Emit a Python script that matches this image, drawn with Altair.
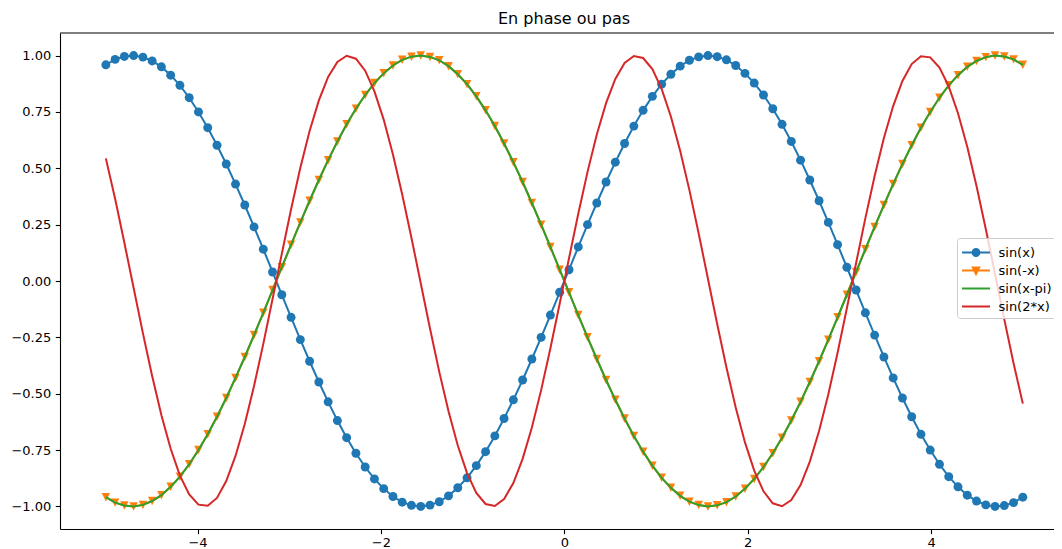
import altair as alt
import pandas as pd

# ---- data (100 samples between -5 and 5) ----
x_vals = [
    -5.000, -4.899, -4.798, -4.697, -4.596, -4.495, -4.394, -4.293, -4.192, -4.091,
    -3.990, -3.889, -3.788, -3.687, -3.586, -3.485, -3.384, -3.283, -3.182, -3.081,
    -2.980, -2.879, -2.778, -2.677, -2.576, -2.475, -2.374, -2.273, -2.172, -2.071,
    -1.970, -1.869, -1.768, -1.667, -1.566, -1.465, -1.364, -1.263, -1.162, -1.061,
    -0.960, -0.859, -0.758, -0.657, -0.556, -0.455, -0.354, -0.253, -0.152, -0.051,
    0.051, 0.152, 0.253, 0.354, 0.455, 0.556, 0.657, 0.758, 0.859, 0.960,
    1.061, 1.162, 1.263, 1.364, 1.465, 1.566, 1.667, 1.768, 1.869, 1.970,
    2.071, 2.172, 2.273, 2.374, 2.475, 2.576, 2.677, 2.778, 2.879, 2.980,
    3.081, 3.182, 3.283, 3.384, 3.485, 3.586, 3.687, 3.788, 3.889, 3.990,
    4.091, 4.192, 4.293, 4.394, 4.495, 4.596, 4.697, 4.798, 4.899, 5.000,
]

sin_x = [
    0.959, 0.983, 0.996, 1.000, 0.993, 0.976, 0.950, 0.913, 0.868, 0.813,
    0.750, 0.680, 0.602, 0.519, 0.430, 0.337, 0.240, 0.141, 0.040, -0.061,
    -0.161, -0.260, -0.356, -0.448, -0.536, -0.619, -0.695, -0.764, -0.825, -0.878,
    -0.921, -0.956, -0.981, -0.995, -1.000, -0.994, -0.979, -0.953, -0.917, -0.873,
    -0.819, -0.757, -0.687, -0.610, -0.527, -0.439, -0.346, -0.250, -0.151, -0.050,
    0.050, 0.151, 0.250, 0.346, 0.439, 0.527, 0.610, 0.687, 0.757, 0.819,
    0.873, 0.917, 0.953, 0.979, 0.994, 1.000, 0.995, 0.981, 0.956, 0.921,
    0.878, 0.825, 0.764, 0.695, 0.619, 0.536, 0.448, 0.356, 0.260, 0.161,
    0.061, -0.040, -0.141, -0.240, -0.337, -0.430, -0.519, -0.602, -0.680, -0.750,
    -0.813, -0.868, -0.913, -0.950, -0.976, -0.993, -1.000, -0.996, -0.983, -0.959,
]

sin_neg_x = [
    -0.959, -0.983, -0.996, -1.000, -0.993, -0.976, -0.950, -0.913, -0.868, -0.813,
    -0.750, -0.680, -0.602, -0.519, -0.430, -0.337, -0.240, -0.141, -0.040, 0.061,
    0.161, 0.260, 0.356, 0.448, 0.536, 0.619, 0.695, 0.764, 0.825, 0.878,
    0.921, 0.956, 0.981, 0.995, 1.000, 0.994, 0.979, 0.953, 0.917, 0.873,
    0.819, 0.757, 0.687, 0.610, 0.527, 0.439, 0.346, 0.250, 0.151, 0.050,
    -0.050, -0.151, -0.250, -0.346, -0.439, -0.527, -0.610, -0.687, -0.757, -0.819,
    -0.873, -0.917, -0.953, -0.979, -0.994, -1.000, -0.995, -0.981, -0.956, -0.921,
    -0.878, -0.825, -0.764, -0.695, -0.619, -0.536, -0.448, -0.356, -0.260, -0.161,
    -0.061, 0.040, 0.141, 0.240, 0.337, 0.430, 0.519, 0.602, 0.680, 0.750,
    0.813, 0.868, 0.913, 0.950, 0.976, 0.993, 1.000, 0.996, 0.983, 0.959,
]

sin_x_minus_pi = [
    -0.959, -0.983, -0.996, -1.000, -0.993, -0.976, -0.950, -0.913, -0.868, -0.813,
    -0.750, -0.680, -0.602, -0.519, -0.430, -0.337, -0.240, -0.141, -0.040, 0.061,
    0.161, 0.260, 0.356, 0.448, 0.536, 0.619, 0.695, 0.764, 0.825, 0.878,
    0.921, 0.956, 0.981, 0.995, 1.000, 0.994, 0.979, 0.953, 0.917, 0.873,
    0.819, 0.757, 0.687, 0.610, 0.527, 0.439, 0.346, 0.250, 0.151, 0.050,
    -0.050, -0.151, -0.250, -0.346, -0.439, -0.527, -0.610, -0.687, -0.757, -0.819,
    -0.873, -0.917, -0.953, -0.979, -0.994, -1.000, -0.995, -0.981, -0.956, -0.921,
    -0.878, -0.825, -0.764, -0.695, -0.619, -0.536, -0.448, -0.356, -0.260, -0.161,
    -0.061, 0.040, 0.141, 0.240, 0.337, 0.430, 0.519, 0.602, 0.680, 0.750,
    0.813, 0.868, 0.913, 0.950, 0.976, 0.993, 1.000, 0.996, 0.983, 0.959,
]

sin_2x = [
    0.544, 0.365, 0.170, -0.031, -0.231, -0.421, -0.595, -0.744, -0.863, -0.947,
    -0.992, -0.997, -0.962, -0.887, -0.776, -0.634, -0.466, -0.279, -0.080, 0.121,
    0.318, 0.502, 0.665, 0.801, 0.905, 0.972, 0.999, 0.986, 0.933, 0.841,
    0.716, 0.561, 0.384, 0.191, -0.010, -0.211, -0.403, -0.578, -0.730, -0.852,
    -0.940, -0.989, -0.998, -0.967, -0.896, -0.789, -0.650, -0.484, -0.298, -0.101,
    0.101, 0.298, 0.484, 0.650, 0.789, 0.896, 0.967, 0.998, 0.989, 0.940,
    0.852, 0.730, 0.578, 0.403, 0.211, 0.010, -0.191, -0.384, -0.561, -0.716,
    -0.841, -0.933, -0.986, -0.999, -0.972, -0.905, -0.801, -0.665, -0.502, -0.318,
    -0.121, 0.080, 0.279, 0.466, 0.634, 0.776, 0.887, 0.962, 0.997, 0.992,
    0.947, 0.863, 0.744, 0.595, 0.421, 0.231, 0.031, -0.170, -0.365, -0.544,
]

series_names = ["sin(x)", "sin(-x)", "sin(x-pi)", "sin(2*x)"]
series_colors = ["#1f77b4", "#ff7f0e", "#2ca02c", "#d62728"]
x_ticks = [-4, -2, 0, 2, 4]
y_ticks = [-1.0, -0.75, -0.5, -0.25, 0.0, 0.25, 0.5, 0.75, 1.0]

# ---- long table built from the lists ----
frames = []
for name, vals in zip(series_names, [sin_x, sin_neg_x, sin_x_minus_pi, sin_2x]):
    frames.append(pd.DataFrame({"x": x_vals, "y": vals, "series": name}))
df = pd.concat(frames, ignore_index=True)

W, H = 994, 496
FONT = "DejaVu Sans"

xenc = alt.X("x:Q", scale=alt.Scale(domain=[-5.5, 5.34], nice=False, zero=False),
             axis=alt.Axis(values=x_ticks, title=None, format="d", labelPadding=2.5))
yenc = alt.Y("y:Q", scale=alt.Scale(domain=[-1.1, 1.1], nice=False, zero=False),
             axis=alt.Axis(values=y_ticks, title=None, format=".2f", labelPadding=4.5))


def color_scale():
    return alt.Scale(domain=series_names, range=series_colors)


base = alt.Chart(df)


def line_layer(name):
    return base.transform_filter(alt.datum.series == name).mark_line(
        strokeWidth=2, clip=True
    ).encode(
        x=xenc, y=yenc,
        stroke=alt.Stroke("series:N", scale=color_scale(), legend=None),
    )


def marker_layer(name, shape, size):
    return base.transform_filter(alt.datum.series == name).mark_point(
        filled=True, opacity=1, size=size, shape=shape, strokeWidth=0
    ).encode(
        x=xenc, y=yenc,
        fill=alt.Fill("series:N", scale=color_scale(), legend=None),
    )


# legend symbols: a short line plus the marker, as in the reference
leg_paths = [
    "M-1.47,0L1.47,0M0.36,0A0.36,0.36,0,1,1,-0.36,0A0.36,0.36,0,1,1,0.36,0",
    "M-1.47,0L1.47,0M-0.34,-0.32L0.34,-0.32L0,0.36Z",
    "M-1.47,0L1.47,0",
    "M-1.47,0L1.47,0",
]


def make_legend():
    return alt.Legend(
        title=None, orient="none", legendX=897, legendY=205,
        symbolSize=361, symbolStrokeWidth=2, symbolOffset=4.5,
        labelFont=FONT, labelFontSize=13, labelColor="black", labelOffset=12,
        padding=4, rowPadding=0, fillColor="rgba(255,255,255,0.8)",
        strokeColor="#cccccc", cornerRadius=3,
    )


legend_layer = base.transform_filter("false").mark_point(
    filled=True, opacity=1
).encode(
    fill=alt.Fill("series:N", scale=color_scale(), legend=make_legend()),
    stroke=alt.Stroke("series:N", scale=color_scale(), legend=make_legend()),
    shape=alt.Shape("series:N", scale=alt.Scale(domain=series_names, range=leg_paths),
                    legend=make_legend()),
)

top_spine = alt.Chart(pd.DataFrame({"k": [0]})).mark_rule(
    color="black", strokeWidth=1.1
).encode(x=alt.value(0), x2=alt.value(W), y=alt.value(0))

chart = alt.layer(
    line_layer("sin(x)"),
    marker_layer("sin(x)", "circle", 80),
    line_layer("sin(-x)"),
    marker_layer("sin(-x)", "M0,1L-1,-1L1,-1Z", 72),
    line_layer("sin(x-pi)"),
    line_layer("sin(2*x)"),
    legend_layer,
    top_spine,
).resolve_scale(
    fill="independent", stroke="independent", shape="independent"
).properties(
    width=W, height=H,
    title=alt.TitleParams("En phase ou pas", font=FONT, fontSize=16, fontWeight="normal",
                          color="black", anchor="middle", offset=8,
                          baseline="alphabetic", dx=7, dy=16),
    padding={"left": 52, "top": 25, "right": 0, "bottom": 30},
    autosize=alt.AutoSizeParams(type="none"),
    background="white",
).configure_view(
    stroke=None
).configure_axis(
    labelFont=FONT, labelFontSize=13, labelColor="black",
    tickColor="black", tickSize=4.7, tickWidth=1.1,
    domainColor="black", domainWidth=1.1, grid=False,
)

chart.save("out.html", embed_options={"renderer": "svg", "actions": False})
